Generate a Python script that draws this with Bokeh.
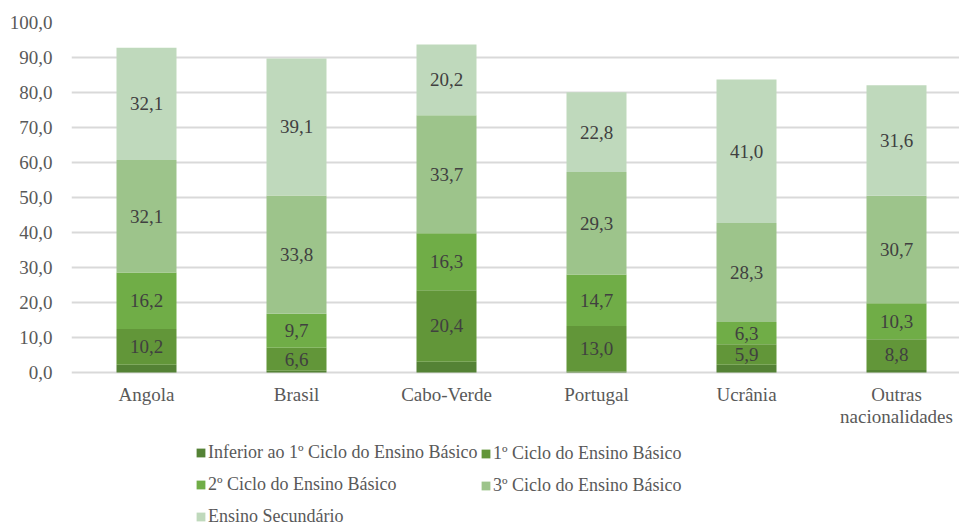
from bokeh.plotting import figure
from bokeh.models import ColumnDataSource, Range1d, FixedTicker, Legend, LegendItem
from bokeh.core.properties import value
from bokeh.embed import file_html
from bokeh.resources import INLINE

# Escolaridade por nacionalidade (%)
paises = ["Angola", "Brasil", "Cabo-Verde", "Portugal", "Ucrânia", "Outras\nnacionalidades"]
inferior_1ciclo = [2.2, 0.5, 3.1, 0.3, 2.2, 0.7]
ciclo1 = [10.2, 6.6, 20.4, 13.0, 5.9, 8.8]
ciclo2 = [16.2, 9.7, 16.3, 14.7, 6.3, 10.3]
ciclo3 = [32.1, 33.8, 33.7, 29.3, 28.3, 30.7]
secundario = [32.1, 39.1, 20.2, 22.8, 41.0, 31.6]

series = [
    ("Inferior ao 1º Ciclo do Ensino Básico", inferior_1ciclo, "#548235", False),
    ("1º Ciclo do Ensino Básico", ciclo1, "#629639", True),
    ("2º Ciclo do Ensino Básico", ciclo2, "#70ad47", True),
    ("3º Ciclo do Ensino Básico", ciclo3, "#9dc48b", True),
    ("Ensino Secundário", secundario, "#bfd9bc", True),
]

FONT = "Liberation Serif"
TXT = "#404040"
SIZE = "19px"

# the frame runs to the bottom edge so the category labels and legend sit inside it
p = figure(width=959, height=526, output_backend="svg", toolbar_location=None,
           x_range=Range1d(-0.5, 5.42), y_range=Range1d(-44, 100),
           min_border_left=71, min_border_right=0, min_border_top=22,
           min_border_bottom=0)
p.outline_line_color = None
p.background_fill_color = "white"
p.border_fill_color = "white"
p.xaxis.visible = False

xs = list(range(len(paises)))
base = [0.0] * len(paises)
renderers = {}
for nome, vals, cor, rotular in series:
    top = [b + v for b, v in zip(base, vals)]
    src = ColumnDataSource(dict(x=xs, bottom=base, top=top,
                                mid=[(b + t) / 2 for b, t in zip(base, top)],
                                lbl=[f"{v:.1f}".replace(".", ",") for v in vals]))
    r = p.vbar(x="x", bottom="bottom", top="top", width=0.4, source=src,
               fill_color=cor, line_color=None)
    renderers[nome] = r
    if rotular:
        p.text(x="x", y="mid", text="lbl", source=src, text_align="center",
               text_baseline="middle", text_font=value(FONT),
               text_font_size=SIZE, text_color=TXT)
    base = top

# category labels under the bars
cat_src = ColumnDataSource(dict(x=xs, y=[-3.3] * len(xs), nome=paises))
p.text(x="x", y="y", text="nome", source=cat_src, text_align="center",
       text_baseline="top", text_font=value(FONT), text_font_size=SIZE,
       text_color="#595959", text_line_height=1.05)

# y axis
p.yaxis.ticker = FixedTicker(ticks=list(range(0, 101, 10)))
p.yaxis.major_label_overrides = {t: f"{t:.1f}".replace(".", ",") for t in range(0, 101, 10)}
ax = p.yaxis[0]
ax.axis_line_color = None
ax.major_tick_line_color = None
ax.minor_tick_line_color = None
ax.major_label_text_font = FONT
ax.major_label_text_font_size = SIZE
ax.major_label_text_color = "#595959"
ax.major_label_standoff = 13

p.xgrid.grid_line_color = None
p.ygrid.grid_line_color = "#d9d9d9"
p.ygrid.grid_line_width = 2

# legend in two columns
def legenda(nomes, x, y):
    leg = Legend(items=[LegendItem(label=n, renderers=[renderers[n]]) for n in nomes],
                 location=(x, y), orientation="vertical",
                 glyph_width=11, glyph_height=11, label_height=20, spacing=11,
                 label_standoff=2, padding=0, margin=0,
                 border_line_color=None, background_fill_alpha=0,
                 label_text_font=FONT, label_text_font_size="18px",
                 label_text_color="#595959")
    p.add_layout(leg, "center")

legenda(["Inferior ao 1º Ciclo do Ensino Básico", "2º Ciclo do Ensino Básico",
         "Ensino Secundário"], 124, -1)
legenda(["1º Ciclo do Ensino Básico", "3º Ciclo do Ensino Básico"], 409, 30)

open("out.html", "w").write(file_html(p, INLINE))
